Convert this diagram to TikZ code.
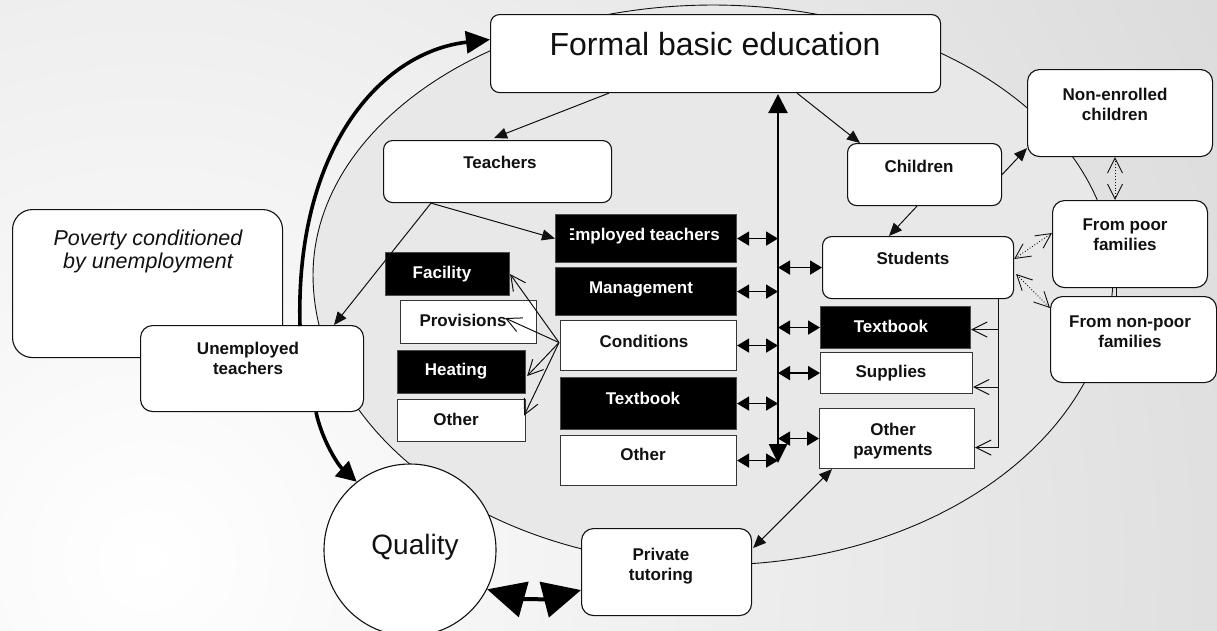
\documentclass[tikz,border=0pt]{standalone}
\usepackage{fontspec}
\setmainfont{Liberation Sans}
\usetikzlibrary{arrows.meta,calc}

\definecolor{ringfill}{HTML}{E8E8E8}
\definecolor{bgedge}{HTML}{D6D6D6}
\definecolor{ink}{HTML}{111111}

\tikzset{
  rbox/.style={draw=ink, line width=1.1pt, fill=white, rounded corners=9pt,
               inner sep=0pt, anchor=north west},
  wbox/.style={draw=ink!85, line width=1.1pt, fill=white, inner sep=0pt, anchor=north west},
  kbox/.style={draw=black!70, line width=1.1pt, fill=black, inner sep=0pt, anchor=north west},
  lbl/.style={font=\bfseries\fontsize{17}{20}\selectfont, text=ink, inner sep=0pt, anchor=base},
  klbl/.style={lbl, text=white},
  lbltwo/.style={font=\bfseries\fontsize{17}{20}\selectfont, text=ink, inner sep=0pt,
                 anchor=north, align=center},
  tarr/.style={draw=ink, line width=1pt, -{Triangle[length=13pt,width=11pt]}},
  tbi/.style={draw=ink, line width=1pt, {Triangle[length=13pt,width=11pt]}-{Triangle[length=13pt,width=11pt]}},
  oarr/.style={draw=ink, line width=1pt, -{Straight Barb[length=15pt,width=15pt]}},
  dotbi/.style={draw=ink, line width=0.9pt, dotted,
                {Straight Barb[length=15pt,width=15pt]}-{Straight Barb[length=15pt,width=15pt]}},
  sbi/.style={draw=black, line width=1.6pt, {Triangle[length=12pt,width=14pt]}-{Triangle[length=12pt,width=14pt]}},
  vmain/.style={draw=black, line width=2.6pt, {Triangle[length=19pt,width=19pt]}-{Triangle[length=19pt,width=18pt]}},
  thickarc/.style={draw=black, line width=3.6pt},
}

\begin{document}
\begin{tikzpicture}[x=1pt, y=-1pt]
\useasboundingbox (0,0) rectangle (1217,630);

% soft backdrop
\begin{scope}
  \clip (0,0) rectangle (1217,630);
  \shade[inner color=white, outer color=bgedge] (150,560) circle[radius=1400];
\end{scope}

% the grey ring around the system
\path[fill=ringfill, draw=ink, line width=0.9pt]
  plot[domain=180:360, samples=120] ({713+400*cos(\x)},{275+270*sin(\x)})
  -- plot[domain=0:180, samples=120] ({713+400*cos(\x)},{275+290*sin(\x)}) -- cycle;

% ---------------- boxes ----------------
\node[rbox, minimum width=450pt, minimum height=78pt] (formal) at (490,14) {};
\node[rbox, minimum width=228pt, minimum height=62pt] (teachers) at (383,140) {};
\node[rbox, rounded corners=20pt, minimum width=270pt, minimum height=148pt] (poverty) at (12,209) {};
\node[rbox, rounded corners=12pt, minimum width=223pt, minimum height=86pt] (unemp) at (140,325) {};

\node[kbox, minimum width=124pt, minimum height=43pt] (facility) at (385,252) {};
\node[wbox, minimum width=136pt, minimum height=43pt] (prov) at (400,300) {};
\node[kbox, minimum width=128pt, minimum height=43pt] (heat) at (397,350) {};
\node[wbox, minimum width=128pt, minimum height=42pt] (othS) at (397,399) {};

\node[kbox, minimum width=181pt, minimum height=48pt] (empl) at (555,214) {};
\node[kbox, minimum width=181pt, minimum height=48pt] (mgmt) at (555,267) {};
\node[wbox, minimum width=176pt, minimum height=50pt] (cond) at (560,320) {};
\node[kbox, minimum width=176pt, minimum height=52pt] (tbL) at (560,377) {};
\node[wbox, minimum width=176pt, minimum height=50pt] (othL) at (560,435) {};

\node[rbox, minimum width=154pt, minimum height=62pt] (children) at (847,143) {};
\node[rbox, minimum width=191pt, minimum height=62pt] (students) at (822,236) {};
\node[kbox, minimum width=150pt, minimum height=42pt] (tbR) at (820,306) {};
\node[wbox, minimum width=152pt, minimum height=41pt] (supR) at (820,352) {};
\node[wbox, minimum width=155pt, minimum height=60pt] (opay) at (819,408) {};

\node[rbox, rounded corners=12pt, minimum width=185pt, minimum height=87pt] (nonenr) at (1027,69) {};
\node[rbox, rounded corners=12pt, minimum width=155pt, minimum height=87pt] (poor) at (1052,200) {};
\node[rbox, rounded corners=12pt, minimum width=166pt, minimum height=86pt] (nonpoor) at (1050,296) {};
\node[rbox, rounded corners=12pt, minimum width=170pt, minimum height=87pt] (priv) at (581,528) {};

\node[circle, draw=ink, line width=1.1pt, fill=white, minimum size=172pt, inner sep=0pt] (quality) at (410,550) {};

% ---------------- texts ----------------
\node[font=\fontsize{32}{36}\selectfont, text=ink, inner sep=0pt, anchor=base] (formal-t) at (715,55) {Formal basic education};
\node[lbl] (teachers-t) at (500,168) {Teachers};
\node[font=\itshape\fontsize{21.5}{23}\selectfont, text=ink, inner sep=0pt, anchor=north, align=center]
  (poverty-t) at (148,229) {\strut Poverty conditioned\\\strut by unemployment};
\node[lbltwo] (unemp-t) at (248,340) {\strut Unemployed\\\strut teachers};

\node[klbl] (facility-t) at (442,278) {Facility};
\node[lbl] (prov-t) at (463,326) {Provisions};
\node[klbl] (heat-t) at (456,375) {Heating};
\node[lbl] (othS-t) at (456,425) {Other};

\begin{scope}
  \clip (570,214) rectangle (736,262);
  \node[klbl, anchor=base east] (empl-t) at (720,240) {Employed teachers};
\end{scope}
\node[klbl] (mgmt-t) at (641,293) {Management};
\node[lbl] (cond-t) at (644,347) {Conditions};
\node[klbl] (tbL-t) at (643,404) {Textbook};
\node[lbl] (othL-t) at (643,460) {Other};

\node[lbl] (children-t) at (919,172) {Children};
\node[lbl] (students-t) at (913,264) {Students};
\node[klbl] (tbR-t) at (891,332) {Textbook};
\node[lbl] (supR-t) at (891,377) {Supplies};
\node[lbltwo] (opay-t) at (893,421) {\strut Other\\\strut payments};

\node[lbltwo] (nonenr-t) at (1115,86) {\strut Non-enrolled\\\strut children};
\node[lbltwo] (poor-t) at (1125,216) {\strut From poor\\\strut families};
\node[lbltwo] (nonpoor-t) at (1130,313) {\strut From non-poor\\\strut families};
\node[lbltwo] (priv-t) at (661,546) {\strut Private\\\strut tutoring};

\node[font=\fontsize{28}{32}\selectfont, text=ink, inner sep=0pt, anchor=base] (quality-t) at (415,554) {Quality};

% ---------------- heavy loop around the ring ----------------
\coordinate (arcfoot) at (300,326);
\draw[thickarc, -{Triangle[length=24pt,width=22pt]}]
  (arcfoot) .. controls (295,150) and (380,52) .. ($(formal.west)+(0,-14)$);
\draw[thickarc, -{Triangle[length=20pt,width=20pt]}]
  ($(unemp.south west)+(176,0)$) .. controls (322,440) and (338,465) .. (quality.128);
\draw[draw=black, line width=4pt, {Triangle[length=38pt,width=36pt]}-{Triangle[length=38pt,width=36pt]}]
  (quality.-27) to[bend right=15] ($(priv.west)+(0,18)$);

% ---------------- central spine ----------------
\coordinate (vl) at (778,0);
\coordinate (vbot) at (778,463);
\draw[vmain] ($(formal.south west)+(288,1)$) -- (vbot);
\foreach \b in {empl,mgmt,cond,tbL,othL}
  \draw[sbi] (\b.east) -- (\b.east -| vl);
\foreach \b in {students,tbR,supR,opay}
  \draw[sbi] (\b.west -| vl) -- (\b.west);

% ---------------- thin connectors ----------------
\draw[tarr] ($(formal.south west)+(119,0)$) -- ($(teachers.north west)+(111,-2)$);
\draw[tarr] ($(formal.south west)+(307,0)$) -- ($(children.north west)+(13,0)$);
\draw[tarr] ($(teachers.south west)+(48,0)$) -- (empl.west);
\draw[tarr] ($(teachers.south west)+(48,0)$) -- ($(unemp.north west)+(194,0)$);
\draw[tarr] (children.east) -- ($(nonenr.south west)+(0,-9)$);
\draw[tarr] ($(children.south west)+(70,0)$) -- ($(students.north west)+(67,0)$);

\draw[dotbi] ($(nonenr.south west)+(88,0)$) -- ($(poor.north west)+(63,0)$);
\draw[dotbi] ($(students.north east)+(0,23)$) -- ($(poor.north west)+(0,33)$);
\draw[dotbi] ($(students.north east)+(2,38)$) -- ($(nonpoor.north west)+(0,12)$);
\draw[draw=ink, line width=1pt] ($(poor.south west)+(64,0)$) -- ($(nonpoor.north west)+(66,0)$);

\draw[oarr] ($(students.south east)+(-16,0)$) |- ($(tbR.east)+(0,2)$);
\draw[oarr] ($(students.south east)+(-16,0)$) |- ($(supR.east)+(0,14)$);
\draw[oarr] ($(students.south east)+(-16,0)$) |- ($(opay.east)+(0,9)$);

\draw[oarr] ($(cond.west)+(-1,-3)$) -- (facility.east);
\draw[oarr] ($(cond.west)+(-1,-3)$) -- ($(prov.east)+(-32,-4)$);
\draw[oarr] ($(cond.west)+(-1,-3)$) -- ($(heat.east)+(1,4)$);
\draw[oarr] ($(cond.west)+(-1,-3)$) -- ($(othS.east)+(-2,-5)$);

\draw[tbi] ($(opay.south west)+(13,0)$) -- ($(priv.north east)+(1,20)$);

\end{tikzpicture}
\end{document}
